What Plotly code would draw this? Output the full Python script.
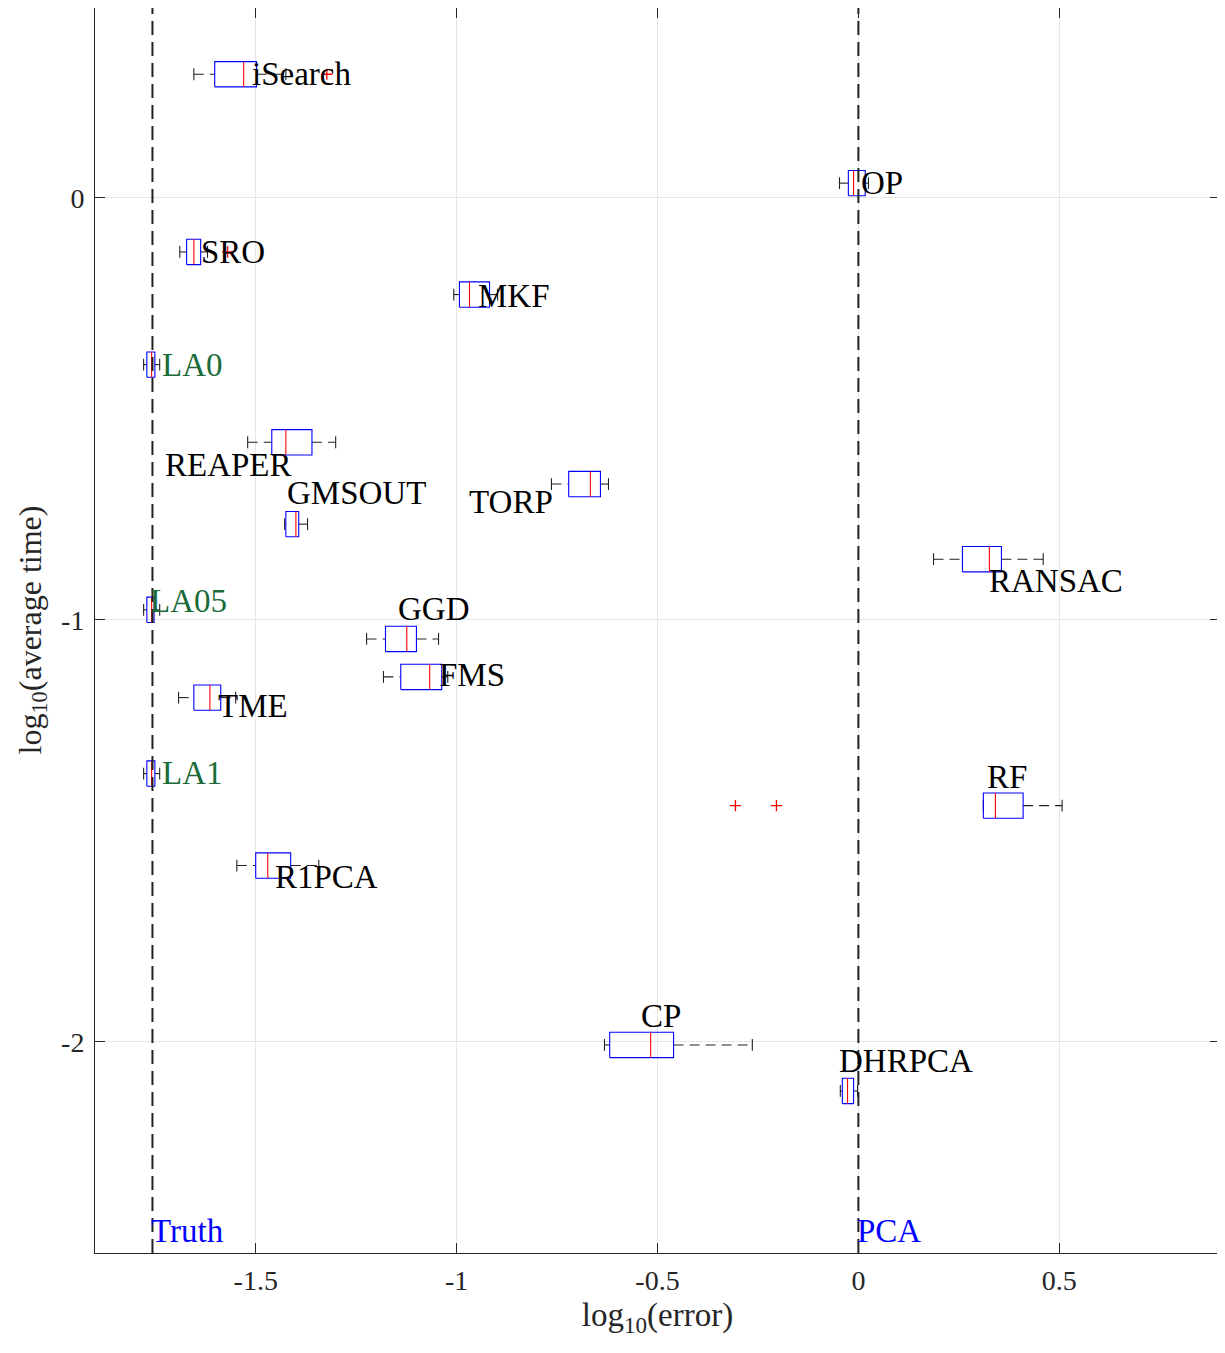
import plotly.graph_objects as go

# ---------------- data ----------------
methods = ["iSearch", "OP", "SRO", "MKF", "LA0", "REAPER", "GMSOUT", "TORP", "RANSAC",
           "LA05", "GGD", "FMS", "TME", "LA1", "RF", "R1PCA", "CP", "DHRPCA"]
log_time = [0.293, 0.035, -0.128, -0.229, -0.395, -0.579, -0.773, -0.678, -0.856,
            -0.976, -1.045, -1.135, -1.184, -1.364, -1.440, -1.582, -2.007, -2.116]
whisk_lo = [-1.654, -0.047, -1.689, -1.007, -1.779, -1.520, -1.428, -0.764, 0.187,
            -1.779, -1.224, -1.182, -1.692, -1.779, 0.311, -1.547, -0.632, -0.045]
q1 = [-1.602, -0.025, -1.672, -0.993, -1.771, -1.460, -1.425, -0.721, 0.259,
      -1.771, -1.177, -1.139, -1.654, -1.771, 0.311, -1.500, -0.619, -0.040]
median = [-1.530, -0.012, -1.654, -0.968, -1.759, -1.425, -1.400, -0.667, 0.326,
          -1.759, -1.124, -1.067, -1.614, -1.759, 0.341, -1.470, -0.517, -0.027]
q3 = [-1.498, 0.017, -1.637, -0.918, -1.751, -1.360, -1.393, -0.642, 0.356,
      -1.753, -1.100, -1.037, -1.587, -1.751, 0.410, -1.413, -0.460, -0.012]
whisk_hi = [-1.425, 0.025, -1.620, -0.898, -1.739, -1.301, -1.371, -0.622, 0.460,
            -1.739, -1.045, -1.022, -1.550, -1.739, 0.507, -1.343, -0.264, -0.002]
outliers = {"iSearch": [-1.323], "SRO": [-1.570], "RF": [-0.306, -0.204]}

truth_err = -1.757
pca_err = 0.0

x_ticks = [-1.5, -1.0, -0.5, 0.0, 0.5]
x_ticklabels = ["-1.5", "-1", "-0.5", "0", "0.5"]
y_ticks = [-2, -1, 0]
y_ticklabels = ["-2", "-1", "0"]

# label placements (data coords, left aligned)
label_x = {"iSearch": -1.513, "OP": 0.002, "SRO": -1.642, "MKF": -0.951, "LA0": -1.737,
           "REAPER": -1.732, "GMSOUT": -1.426, "TORP": -0.973, "RANSAC": 0.320,
           "LA05": -1.769, "GGD": -1.152, "FMS": -1.050, "TME": -1.600, "LA1": -1.737,
           "RF": 0.315, "R1PCA": -1.456, "CP": -0.545, "DHRPCA": -0.053}
label_y = {"iSearch": 0.293, "OP": 0.035, "SRO": -0.128, "MKF": -0.232, "LA0": -0.395,
           "REAPER": -0.632, "GMSOUT": -0.700, "TORP": -0.721, "RANSAC": -0.908,
           "LA05": -0.955, "GGD": -0.974, "FMS": -1.130, "TME": -1.204, "LA1": -1.362,
           "RF": -1.372, "R1PCA": -1.608, "CP": -1.939, "DHRPCA": -2.045}
green_labels = {"LA0", "LA05", "LA1"}

# ---------------- styling ----------------
BOX_H = 0.030   # half box height (data units)
CAP_H = 0.014   # half cap height
FONT = "Liberation Serif"

bx, by, mx, my, wx, wy, cx, cy, ox, oy = [], [], [], [], [], [], [], [], [], []
for i, m in enumerate(methods):
    y = log_time[i]
    bx += [q1[i], q3[i], q3[i], q1[i], q1[i], None]
    by += [y - BOX_H, y - BOX_H, y + BOX_H, y + BOX_H, y - BOX_H, None]
    mx += [median[i], median[i], None]
    my += [y - BOX_H, y + BOX_H, None]
    wx += [whisk_lo[i], q1[i], None, q3[i], whisk_hi[i], None]
    wy += [y, y, None, y, y, None]
    cx += [whisk_lo[i], whisk_lo[i], None, whisk_hi[i], whisk_hi[i], None]
    cy += [y - CAP_H, y + CAP_H, None, y - CAP_H, y + CAP_H, None]
    for o in outliers.get(m, []):
        ox.append(o)
        oy.append(y)

fig = go.Figure()
fig.add_trace(go.Scatter(x=wx, y=wy, mode="lines",
                         line=dict(color="#222222", width=1.1, dash="10px,6px"),
                         hoverinfo="skip", showlegend=False))
fig.add_trace(go.Scatter(x=cx, y=cy, mode="lines",
                         line=dict(color="#222222", width=1.1),
                         hoverinfo="skip", showlegend=False))
fig.add_trace(go.Scatter(x=bx, y=by, mode="lines",
                         line=dict(color="#0000ff", width=1.1),
                         hoverinfo="skip", showlegend=False))
fig.add_trace(go.Scatter(x=mx, y=my, mode="lines",
                         line=dict(color="#ff0000", width=1.1),
                         hoverinfo="skip", showlegend=False))
fig.add_trace(go.Scatter(x=ox, y=oy, mode="markers",
                         marker=dict(symbol="cross-thin", size=8,
                                     line=dict(color="#ff0000", width=1.3)),
                         hoverinfo="skip", showlegend=False))

# reference lines
for xv in (truth_err, pca_err):
    fig.add_trace(go.Scatter(x=[xv, xv], y=[-2.5, 0.45], mode="lines",
                             line=dict(color="#222222", width=2, dash="14px,7px"),
                             hoverinfo="skip", showlegend=False))

for m in methods:
    col = "#1b6b3a" if m in green_labels else "black"
    fig.add_annotation(x=label_x[m], y=label_y[m], text=m, showarrow=False,
                       xanchor="left", yanchor="middle",
                       font=dict(family=FONT, size=33, color=col))

fig.add_annotation(x=truth_err - 0.008, y=-2.449, text="Truth", showarrow=False,
                   xanchor="left", yanchor="middle",
                   font=dict(family=FONT, size=33, color="#0000ff"))
fig.add_annotation(x=pca_err - 0.008, y=-2.449, text="PCA", showarrow=False,
                   xanchor="left", yanchor="middle",
                   font=dict(family=FONT, size=33, color="#0000ff"))

# y-axis title as rotated annotation (placed like the reference)
fig.add_annotation(xref="paper", yref="paper", x=-0.056, y=0.5,
                   text="log<sub>10</sub>(average time)", textangle=-90,
                   showarrow=False, xanchor="center", yanchor="middle",
                   font=dict(family=FONT, size=32, color="#262626"))

axis_common = dict(showline=True, linecolor="#262626", linewidth=1, mirror="allticks",
                   ticks="inside", ticklen=10, tickcolor="#262626",
                   showgrid=True, gridcolor="#e6e6e6", gridwidth=1, zeroline=False,
                   tickfont=dict(family=FONT, size=28, color="#262626"))

fig.update_xaxes(range=[-1.9, 0.9], tickvals=x_ticks, ticktext=x_ticklabels,
                 ticklabelstandoff=2,
                 title=dict(text="log<sub>10</sub>(error)", standoff=8,
                            font=dict(family=FONT, size=33, color="#262626")),
                 **axis_common)
fig.update_yaxes(range=[-2.5, 0.45], tickvals=y_ticks, ticktext=y_ticklabels,
                 ticklabelstandoff=4,
                 **axis_common)

fig.update_layout(width=1217, height=1345,
                  margin=dict(l=87, r=5, t=0, b=100, autoexpand=False),
                  plot_bgcolor="white", paper_bgcolor="white",
                  showlegend=False)

fig.write_html("out.html")
